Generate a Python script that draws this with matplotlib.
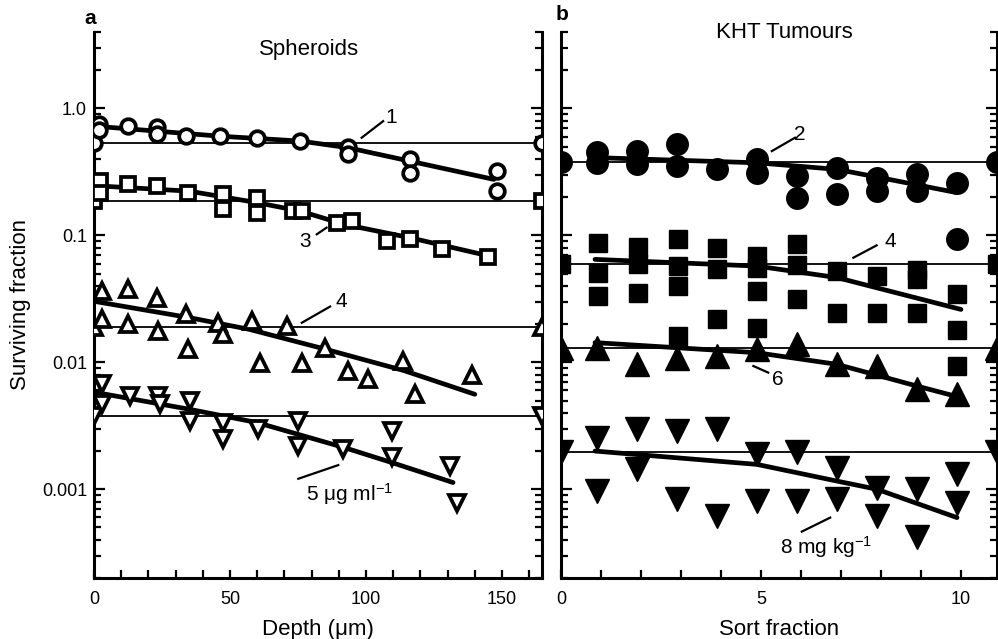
import matplotlib
matplotlib.use('Agg')
import matplotlib.pyplot as plt
from matplotlib.ticker import LogLocator, MultipleLocator, FixedFormatter, FixedLocator, NullFormatter

plt.rcParams['font.family'] = ['Liberation Sans', 'DejaVu Sans']
plt.rcParams['mathtext.fontset'] = 'custom'
plt.rcParams['mathtext.rm'] = 'Liberation Sans'
plt.rcParams['mathtext.it'] = 'Liberation Sans'

# ---- panel a: spheroids (depth in um) ----
sph_circ_x = [2, 2, 12.6, 23, 23, 34, 46.3, 59.8, 75.7, 93.5, 93.5, 116, 116, 148, 148]
sph_circ_y = [0.75, 0.68, 0.726, 0.72, 0.63, 0.605, 0.605, 0.587, 0.553, 0.50, 0.44, 0.40, 0.31, 0.32, 0.223]
sph_circ_fit_x = [2, 46, 76, 93.5, 116, 147]
sph_circ_fit_y = [0.72, 0.605, 0.553, 0.49, 0.385, 0.276]

sph_sq_x = [2.2, 2.2, 12.6, 23, 34.7, 47.5, 47.5, 59.8, 59.8, 73.3, 76.3, 89.2, 94.7, 107.6, 116, 127.8, 145]
sph_sq_y = [0.268, 0.217, 0.252, 0.245, 0.217, 0.21, 0.16, 0.198, 0.151, 0.155, 0.155, 0.126, 0.13, 0.090, 0.093, 0.078, 0.067]
sph_sq_fit_x = [2, 35, 60, 76, 92, 116, 145]
sph_sq_fit_y = [0.245, 0.223, 0.181, 0.155, 0.122, 0.096, 0.069]

sph_tu_x = [2.8, 2.8, 12.6, 12.6, 23, 23.6, 34, 34.7, 45.7, 47.5, 58, 61, 70.8, 76.3, 84.9, 93.5, 100.9, 113.7, 118, 138.9]
sph_tu_y = [0.0364, 0.0218, 0.0376, 0.0199, 0.0323, 0.0176, 0.0239, 0.0127, 0.0205, 0.0166, 0.0211, 0.0099, 0.0193, 0.0099, 0.013, 0.00855, 0.00735, 0.0102, 0.0056, 0.0080]
sph_tu_fit_x = [1, 35, 57, 85, 114, 140]
sph_tu_fit_y = [0.030, 0.0225, 0.0182, 0.0127, 0.0086, 0.0056]

sph_td_x = [2.8, 2.8, 13.2, 23.6, 24.3, 35.3, 35.3, 47.5, 47.5, 60.4, 75.1, 75.1, 91.7, 109.5, 109.5, 130.9, 133.3]
sph_td_y = [0.0067, 0.00468, 0.00543, 0.00543, 0.00468, 0.00496, 0.00345, 0.00335, 0.00248, 0.00297, 0.00345, 0.00219, 0.00206, 0.00288, 0.00178, 0.00152, 0.000785]
sph_td_fit_x = [1, 35, 60, 92, 110, 132]
sph_td_fit_y = [0.00577, 0.00427, 0.00335, 0.00213, 0.00161, 0.00113]

sph_controls = [0.53, 0.185, 0.0189, 0.00376]

# ---- panel b: KHT tumours (sort fraction) ----
kht_circ_x = [0.9, 0.9, 1.9, 1.9, 2.9, 2.9, 3.9, 4.9, 4.9, 5.9, 5.9, 6.9, 6.9, 7.9, 7.9, 8.9, 8.9, 9.9, 9.9]
kht_circ_y = [0.45, 0.37, 0.461, 0.362, 0.52, 0.351, 0.331, 0.397, 0.312, 0.293, 0.198, 0.341, 0.21, 0.284, 0.223, 0.302, 0.223, 0.26, 0.093]
kht_circ_fit_x = [0.85, 4.9, 6.9, 7.9, 9.9]
kht_circ_fit_y = [0.41, 0.373, 0.331, 0.288, 0.217]

kht_sq_x = [0.93, 0.93, 0.93, 1.93, 1.93, 1.93, 2.93, 2.93, 2.93, 2.93, 3.9, 3.9, 3.9,
            4.9, 4.9, 4.9, 4.9, 5.9, 5.9, 5.9, 6.9, 6.9, 7.9, 7.9, 8.9, 8.9, 8.9, 9.9, 9.9, 9.9]
kht_sq_y = [0.0875, 0.0508, 0.0333, 0.081, 0.06, 0.035, 0.093, 0.0573, 0.040, 0.0161, 0.08, 0.054, 0.0218,
            0.0687, 0.0557, 0.0364, 0.0188, 0.086, 0.058, 0.0313, 0.0524, 0.0246, 0.0478, 0.0246, 0.053, 0.045, 0.0246, 0.0343, 0.0180, 0.0094]
kht_sq_fit_x = [0.85, 4.9, 6.9, 10.0]
kht_sq_fit_y = [0.0647, 0.0573, 0.0465, 0.0261]

kht_tu_x = [0.9, 1.9, 2.9, 3.9, 4.9, 5.9, 6.9, 7.9, 8.9, 9.9]
kht_tu_y = [0.013, 0.00964, 0.0109, 0.0112, 0.0127, 0.0139, 0.00964, 0.0094, 0.00612, 0.0056]
kht_tu_fit_x = [0.85, 4.9, 6.9, 8.9, 10.0]
kht_tu_fit_y = [0.0143, 0.0119, 0.00964, 0.0065, 0.00527]

kht_td_x = [0.9, 0.9, 1.9, 1.9, 2.9, 2.9, 3.9, 3.9, 4.9, 4.9, 5.9, 5.9, 6.9, 6.9, 7.9, 7.9, 8.9, 8.9, 9.9, 9.9]
kht_td_y = [0.00255, 0.00097, 0.00297, 0.00144, 0.00288, 0.000834, 0.00297, 0.000617, 0.00189, 0.00081,
            0.00195, 0.00081, 0.00148, 0.000834, 0.00103, 0.000617, 0.001, 0.000417, 0.00131, 0.000785]
kht_td_fit_x = [0.85, 4.9, 6.9, 7.9, 9.9]
kht_td_fit_y = [0.002, 0.00157, 0.00116, 0.001, 0.000598]

kht_controls = [0.376, 0.059, 0.0129, 0.00195]

depth_ticks = [0, 50, 100, 150]
sort_ticks = [0, 5, 10]
y_ticks = [1.0, 0.1, 0.01, 0.001]
y_labels = ['1.0', '0.1', '0.01', '0.001']

W, H = 998, 639
fig = plt.figure(figsize=(W / 100, H / 100), dpi=100)
axa = fig.add_axes([94 / W, 1 - 578 / H, (542 - 94) / W, (578 - 32) / H])
axb = fig.add_axes([561 / W, 1 - 578 / H, (997 - 561) / W, (578 - 32) / H])

XMAX_A = 164.7
XMAX_B = 10.9


def style_axes(ax, xmax, minor_step, major_ticks):
    ax.set_yscale('log')
    ax.set_ylim(2e-4, 4)
    ax.set_xlim(0, xmax)
    ax.spines['top'].set_visible(False)
    for s in ['left', 'right', 'bottom']:
        ax.spines[s].set_linewidth(2.2)
    ax.yaxis.set_major_locator(FixedLocator(y_ticks))
    ax.yaxis.set_minor_locator(LogLocator(base=10, subs=range(2, 10)))
    ax.yaxis.set_minor_formatter(NullFormatter())
    ax.xaxis.set_major_locator(FixedLocator(major_ticks))
    ax.xaxis.set_minor_locator(MultipleLocator(minor_step))
    ax.tick_params(axis='y', which='both', direction='in', left=True, right=True, width=1.6)
    ax.tick_params(axis='y', which='major', length=8, pad=5, labelsize=13)
    ax.tick_params(axis='y', which='minor', length=5)
    ax.tick_params(axis='x', which='both', direction='in', top=False, bottom=True, width=1.6, length=6)
    ax.tick_params(axis='x', which='major', pad=9, labelsize=13)


style_axes(axa, XMAX_A, 10, depth_ticks)
style_axes(axb, XMAX_B, 1, sort_ticks)
axa.yaxis.set_major_formatter(FixedFormatter(y_labels))
axb.yaxis.set_major_formatter(NullFormatter())

# control lines + control markers at both edges
open_kw = dict(mfc='white', mec='black', mew=2.7, ls='none', clip_on=True, zorder=4)
markers_a = [('o', 10.5), ('s', 9.5), ('^', 12), ('v', 12)]
for c, (m, ms) in zip(sph_controls, markers_a):
    axa.axhline(c, color='black', lw=1.3, zorder=1)
    axa.plot([0, XMAX_A], [c, c], marker=m, ms=ms, **open_kw)

fill_kw = dict(mfc='black', mec='black', ls='none', clip_on=True, zorder=4)
markers_b = [('o', 15.5), ('s', 13.5), ('^', 17), ('v', 17)]
for c, (m, ms) in zip(kht_controls, markers_b):
    axb.axhline(c, color='black', lw=1.3, zorder=1)
    axb.plot([0, XMAX_B], [c, c], marker=m, ms=ms, **fill_kw)

# panel a data and fits
series_a = [(sph_circ_x, sph_circ_y, sph_circ_fit_x, sph_circ_fit_y),
            (sph_sq_x, sph_sq_y, sph_sq_fit_x, sph_sq_fit_y),
            (sph_tu_x, sph_tu_y, sph_tu_fit_x, sph_tu_fit_y),
            (sph_td_x, sph_td_y, sph_td_fit_x, sph_td_fit_y)]
for (x, y, fx, fy), (m, ms) in zip(series_a, markers_a):
    axa.plot(fx, fy, color='black', lw=3.4, solid_capstyle='round', zorder=3)
    axa.plot(x, y, marker=m, ms=ms, **open_kw)

series_b = [(kht_circ_x, kht_circ_y, kht_circ_fit_x, kht_circ_fit_y),
            (kht_sq_x, kht_sq_y, kht_sq_fit_x, kht_sq_fit_y),
            (kht_tu_x, kht_tu_y, kht_tu_fit_x, kht_tu_fit_y),
            (kht_td_x, kht_td_y, kht_td_fit_x, kht_td_fit_y)]
for (x, y, fx, fy), (m, ms) in zip(series_b, markers_b):
    axb.plot(fx, fy, color='black', lw=3.4, solid_capstyle='round', zorder=3)
    axb.plot(x, y, marker=m, ms=ms, **fill_kw)

# labels of the curves with leader lines (data coords)
def note(ax, text, xy_text, p0, p1):
    ax.plot([p0[0], p1[0]], [p0[1], p1[1]], color='black', lw=1.6, zorder=5)
    ax.text(xy_text[0], xy_text[1], text, fontsize=15, ha='center', va='center', zorder=6)

note(axa, '1', (109.4, 0.845), (98.4, 0.588), (106.3, 0.794))
note(axa, '3', (77.6, 0.090), (81.9, 0.102), (85.5, 0.115))
note(axa, '4', (91.1, 0.0304), (76.4, 0.0205), (86.8, 0.0275))
note(axa, r'5 μg ml$^{-1}$', (94.1, 0.000914), (75.1, 0.00121), (89.8, 0.00155))

note(axb, '2', (5.975, 0.624), (5.27, 0.461), (5.85, 0.588))
note(axb, '4', (8.225, 0.090), (7.31, 0.0667), (7.89, 0.0834))
note(axb, '6', (5.43, 0.00735), (4.81, 0.00935), (5.18, 0.0083))
note(axb, r'8 mg kg$^{-1}$', (6.64, 0.000348), (6.02, 0.000464), (6.73, 0.000598))

axa.text(0.48, 1 - (50 - 32) / 546, 'Spheroids', transform=axa.transAxes,
         fontsize=16, ha='center', va='center')
axb.text(0.513, 1 - (32 - 32) / 546, 'KHT Tumours', transform=axb.transAxes,
         fontsize=16, ha='center', va='center')

fig.text(90 / W, 1 - 19 / H, 'a', fontsize=15, fontweight='bold', ha='center', va='center')
fig.text(562 / W, 1 - 15 / H, 'b', fontsize=15, fontweight='bold', ha='center', va='center')

axa.set_xlabel('Depth (μm)', fontsize=16, labelpad=8)
axb.set_xlabel('Sort fraction', fontsize=16, labelpad=8)
axa.set_ylabel('Surviving fraction', fontsize=16, labelpad=8)

fig.savefig('out.png', dpi=100)
